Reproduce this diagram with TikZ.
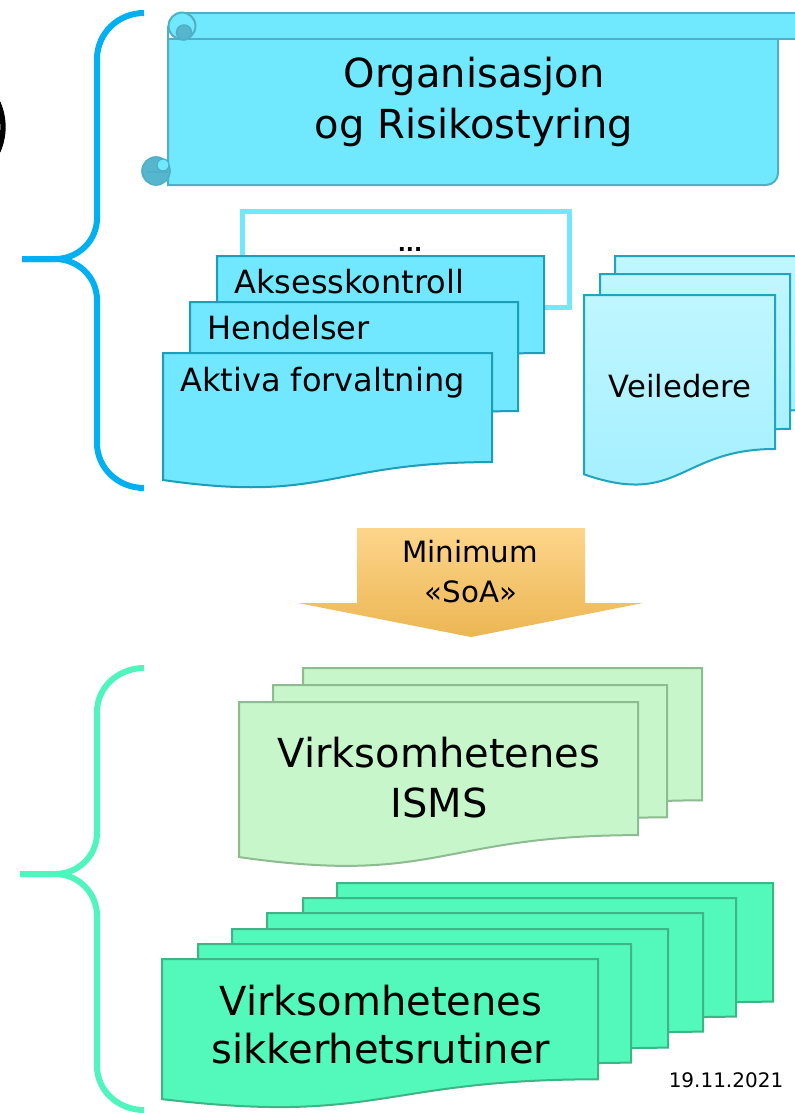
\documentclass[tikz,border=0pt]{standalone}
\usepackage{fontspec}
\setmainfont{DejaVu Sans}
\definecolor{scrollfill}{HTML}{70E9FF}
\definecolor{scrollline}{HTML}{4FAFC6}
\definecolor{scrolldark}{HTML}{56B6CD}
\definecolor{topfill}{HTML}{71E8FF}
\definecolor{topline}{HTML}{1A9EBA}
\definecolor{veiltop}{HTML}{C0F6FF}
\definecolor{veilbot}{HTML}{A2EFFF}
\definecolor{veilline}{HTML}{1FA5BE}
\definecolor{ismsfill}{HTML}{C6F6C9}
\definecolor{ismsline}{HTML}{8DBB92}
\definecolor{rutfill}{HTML}{52F9BA}
\definecolor{rutline}{HTML}{3DB585}
\definecolor{bracetop}{HTML}{00B0F0}
\definecolor{bracebot}{HTML}{50F5BE}
\definecolor{arrtop}{HTML}{FDD58B}
\definecolor{arrbot}{HTML}{ECB653}
\newcommand\docshape[5]{%
  \path[#1] (#2,#3) -- ({#2+#4},#3) -- ({#2+#4},{#3+0.802*#5})
    .. controls ({#2+0.5*#4},{#3+0.802*#5}) and ({#2+0.5*#4},{#3+1.107*#5}) ..
    (#2,{#3+0.934*#5}) -- cycle;}
\newcommand\fs[1]{\fontsize{#1pt}{#1pt}\selectfont}
\begin{document}
\begin{tikzpicture}[x=0.75pt,y=-0.75pt,
  scrollst/.style={fill=scrollfill, draw=scrollline, line width=1.5pt},
  darkcurl/.style={fill=scrolldark, draw=scrollline, line width=1.2pt},
  topdoc/.style={fill=topfill, draw=topline, line width=1.5pt},
  veildoc/.style={top color=veiltop, bottom color=veilbot, draw=veilline, line width=1.5pt},
  ismsdoc/.style={fill=ismsfill, draw=ismsline, line width=1.5pt},
  rutdoc/.style={fill=rutfill, draw=rutline, line width=1.5pt},
  bracest/.style={line width=4.5pt},
  txt/.style={anchor=base, inner sep=0pt, text=black},
  txtl/.style={anchor=base west, inner sep=0pt, text=black}]
\useasboundingbox[fill=white] (0,0) rectangle (794,1113);

% black arc at the left edge
\draw[line width=4pt] (-57,127) ++(-24:60*0.75pt) arc[start angle=-24, end angle=24, radius=45pt];

% braces
\draw[bracest, draw=bracetop] (144,13) to[out=180,in=90] (97,59) -- (97,218)
  to[out=-90,in=0] (55,259) -- (22,259);
\draw[bracest, draw=bracetop] (22,259) -- (55,259) to[out=0,in=90] (97,300)
  -- (97,443) to[out=-90,in=180] (144,488);
\draw[bracest, draw=bracebot] (144,668) to[out=180,in=90] (97,712) -- (97,833)
  to[out=-90,in=0] (55,874) -- (20,874);
\draw[bracest, draw=bracebot] (20,874) -- (55,874) to[out=0,in=90] (97,916)
  -- (97,1066) to[out=-90,in=180] (144,1110);

% scroll
\path[scrollst] (168,26) -- (168,185) -- (766,185)
  arc[start angle=-90, end angle=0, radius=9pt] -- (778,39) -- (168,39) -- cycle;
\path[scrollst] (182,13) rectangle (805,39);
\path[scrollst] (182,26) circle[radius=10.1pt];
\path[darkcurl] (184,32.5) circle[radius=5.6pt];
\path[darkcurl] (156,171) circle[radius=10.5pt];
\path[scrollst, line width=1pt] (163,165) circle[radius=4.5pt];
\draw[scrollline, line width=1pt] (146,172) -- (168,172);

% outline box behind the stack
\draw[topfill, line width=3.75pt] (242,211) rectangle (569,307);
\node[txt, font=\bfseries\fs{16}] (dots) at (410,251) {...};

% top document stack
\docshape{topdoc}{217}{256}{327}{121}
\docshape{topdoc}{190}{302}{328}{136}
\docshape{topdoc}{163}{353}{329}{136}

% Veiledere stack
\docshape{veildoc}{615}{256}{190}{192}
\docshape{veildoc}{600}{274}{190}{193}
\docshape{veildoc}{584}{295}{191}{192}

% arrow
\path[top color=arrtop, bottom color=arrbot] (357,528) -- (585,528) -- (585,603)
  -- (643,603) -- (471,637) -- (298,603) -- (357,603) -- cycle;

% ISMS stack
\docshape{ismsdoc}{303}{668}{399}{165}
\docshape{ismsdoc}{273}{685}{394}{165}
\docshape{ismsdoc}{239}{702}{399}{166}

% sikkerhetsrutiner stack
\docshape{rutdoc}{337}{883}{436}{148}
\docshape{rutdoc}{303}{898}{433}{148}
\docshape{rutdoc}{267}{913}{436}{148}
\docshape{rutdoc}{232}{929}{436}{148}
\docshape{rutdoc}{198}{944}{433}{148}
\docshape{rutdoc}{162}{959}{436}{150}

% texts
\node[txt, font=\fs{30}] (org1) at (474,88) {Organisasjon};
\node[txt, font=\fs{30}] (org2) at (474,138) {og Risikostyring};
\node[txtl, font=\fs{24}] (aks) at (234,293) {Aksesskontroll};
\node[txtl, font=\fs{24}] (hen) at (207,339) {Hendelser};
\node[txtl, font=\fs{24}] (akt) at (180,391) {Aktiva forvaltning};
\node[txt, font=\fs{23}] (veil) at (680,397) {Veiledere};
\node[txt, font=\fs{22}] (min) at (470,562) {Minimum};
\node[txt, font=\fs{22}] (soa) at (471,602) {«SoA»};
\node[txt, font=\fs{30}] (vir1) at (439,767) {Virksomhetenes};
\node[txt, font=\fs{30}] (isms) at (439,817) {ISMS};
\node[txt, font=\fs{30}] (vir2) at (381,1015) {Virksomhetenes};
\node[txt, font=\fs{30}] (sik) at (381,1063) {sikkerhetsrutiner};
\node[txt, font=\fs{15}] (date) at (726,1087) {19.11.2021};
\end{tikzpicture}
\end{document}
